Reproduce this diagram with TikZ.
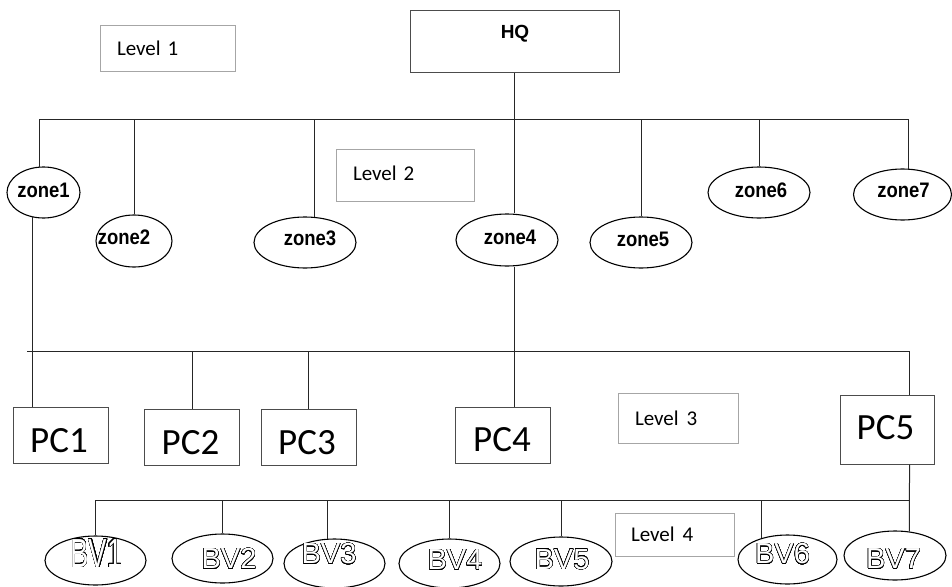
\documentclass[tikz,border=0pt]{standalone}
\usepackage{fontspec}
\setmainfont{Liberation Sans}
\newfontfamily\calfont{Carlito}
\newfontfamily\zonefont[FakeStretch=0.88]{Liberation Sans}
\usepackage{graphicx}
\usepackage{contour}
\contourlength{0.4pt}
\contournumber{32}
\usetikzlibrary{shapes.geometric}
\newcommand\hollowtxt[1]{\contour{black}{\textcolor{white}{#1}}}
\tikzset{
  conn/.style={draw=black!85, line width=1pt},
  lvlbox/.style={draw=black!35, line width=1pt, inner xsep=17pt, inner ysep=0pt, align=left,
    font=\calfont\fontsize{21}{24}\selectfont},
  pcbox/.style={draw=black!70, line width=1pt, minimum width=95pt, minimum height=56pt, inner sep=0pt},
  hqbox/.style={draw=black!70, line width=1pt, minimum width=209pt, minimum height=61pt, inner sep=0pt},
  zoneell/.style={ellipse, draw=black, line width=1.1pt, inner sep=0pt, minimum height=51pt},
  bvell/.style={ellipse, draw=black, line width=1.1pt, inner sep=0pt, minimum width=101pt, minimum height=49pt},
  ztxt/.style args={#1/#2/#3}{label={[xshift=#1pt,yshift=#2pt,inner sep=0pt,
    font=\zonefont\bfseries\fontsize{21}{22}\selectfont]center:#3}},
  bvtxt/.style args={#1/#2/#3}{label={[xshift=#1pt,yshift=#2pt,inner sep=0pt,
    font=\fontsize{29}{30}\selectfont]center:#3}},
  pctxt/.style args={#1/#2/#3}{label={[xshift=#1pt,yshift=#2pt,inner sep=0pt,
    font=\calfont\fontsize{37}{40}\selectfont]center:#3}},
}
\begin{document}
\begin{tikzpicture}[x=1pt,y=-1pt]
\useasboundingbox (0,0) rectangle (952,586);
\clip (0,0) rectangle (952,586);

% level boxes
\node[lvlbox, minimum width=135pt, minimum height=45pt, text width=101pt] (L1) at (167.5,48.5) {Level 1};
\node[lvlbox, minimum width=138pt, minimum height=52pt, text width=104pt] (L2) at (405,175) {\raisebox{3pt}{Level 2}};
\node[lvlbox, minimum width=120pt, minimum height=50pt, text width=86pt] (L3) at (678,418) {Level\hspace{8pt}3};
\node[lvlbox, minimum width=119pt, minimum height=43pt, text width=87pt, inner xsep=16pt] (L4) at (674.5,534.5) {Level\hspace{8pt}4};

% HQ
\node[hqbox, label={[xshift=0.5pt,yshift=7.5pt,inner sep=0pt,font=\bfseries\fontsize{19}{20}\selectfont]center:HQ}] (HQ) at (514.5,41.5) {};

% zones
\node[zoneell, minimum width=73pt, ztxt={0/2.5/zone1}] (z1) at (43.5,192.5) {};
\node[zoneell, minimum width=76pt, minimum height=52pt, ztxt={-10/4/zone2}] (z2) at (134,241) {};
\node[zoneell, minimum width=102pt, ztxt={5/4/zone3}] (z3) at (305,242.5) {};
\node[zoneell, minimum width=102pt, minimum height=52pt, ztxt={3/2.5/zone4}] (z4) at (507,240) {};
\node[zoneell, minimum width=102pt, ztxt={2/3.5/zone5}] (z5) at (641,242.5) {};
\node[zoneell, minimum width=102pt, ztxt={2/2.5/zone6}] (z6) at (759,192.5) {};
\node[zoneell, minimum width=98pt, ztxt={1/4.5/zone7}] (z7) at (902.5,194.5) {};

% PCs
\node[pcbox, pctxt={-1.5/-6/PC1}] (PC1) at (60.5,435) {};
\node[pcbox, pctxt={-1.5/-6/PC2}] (PC2) at (192,437) {};
\node[pcbox, pctxt={-1.5/-6/PC3}] (PC3) at (308.5,437) {};
\node[pcbox, pctxt={-1/-4.5/PC4}] (PC4) at (503,435) {};
\node[pcbox, minimum width=94pt, minimum height=69pt, pctxt={-1.5/1.5/PC5}] (PC5) at (887,429.5) {};

% BVs
\node[bvell, bvtxt={1/7/{\scalebox{0.95}[1.4]{\hollowtxt{BV1}}}}] (BV1) at (95.5,560.5) {};
\node[bvell, bvtxt={6.5/-0.5/{\hollowtxt{BV2}}}] (BV2) at (222.5,558.5) {};
\node[bvell, bvtxt={-5.5/9.5/{\hollowtxt{BV3}}}] (BV3) at (334.5,563.5) {};
\node[bvell, bvtxt={5.5/3.5/{\hollowtxt{BV4}}}] (BV4) at (449.5,563.5) {};
\node[bvell, minimum width=102pt, bvtxt={1/2/{\hollowtxt{BV5}}}] (BV5) at (561,561.5) {};
\node[bvell, minimum width=99pt, bvtxt={-5/5.5/{\hollowtxt{BV6}}}] (BV6) at (787.5,559.5) {};
\node[bvell, minimum width=102pt, bvtxt={-1.5/-3.5/{\hollowtxt{BV7}}}] (BV7) at (895,555.5) {};

% bus levels
\coordinate (busA) at (0,119);
\coordinate (busB) at (0,351);
\coordinate (busC) at (0,500);

% level 1 -> 2
\draw[conn] (z1.99 |- busA) -- (z7.77 |- busA);
\draw[conn] (HQ.south) -- (HQ.south |- z4.north);
\draw[conn] (z1.99 |- busA) -- (z1.99);
\draw[conn] (z2.north |- busA) -- (z2.north);
\draw[conn] (z3.70 |- busA) -- (z3.70);
\draw[conn] (z5.north |- busA) -- (z5.north);
\draw[conn] (z6.north |- busA) -- (z6.north);
\draw[conn] (z7.77 |- busA) -- (z7.77);

% level 2 -> 3
\draw[conn] ([xshift=-5pt]z1.246 |- busB) -- ([xshift=-25pt]PC5.north east |- busB);
\draw[conn] (z1.246) -- (z1.246 |- PC1.north);
\draw[conn] (HQ.south |- z4.south) -- (HQ.south |- PC4.north);
\draw[conn] (PC2.north |- busB) -- (PC2.north);
\draw[conn] (PC3.north |- busB) -- (PC3.north);
\draw[conn] ([xshift=-25pt]PC5.north east |- busB) -- ([xshift=-25pt]PC5.north east);

% level 3 -> 4
\draw[conn] (BV1.north |- busC) -- (BV7.59 |- busC);
\draw[conn] ([xshift=-25pt]PC5.south east) -- (BV7.59);
\draw[conn] (BV1.north |- busC) -- (BV1.north);
\draw[conn] (BV2.north |- busC) -- (BV2.north);
\draw[conn] (BV3.106 |- busC) -- (BV3.106);
\draw[conn] (BV4.north |- busC) -- (BV4.north);
\draw[conn] (BV5.north |- busC) -- (BV5.north);
\draw[conn] (BV6.140 |- busC) -- (BV6.140);
\end{tikzpicture}
\end{document}
